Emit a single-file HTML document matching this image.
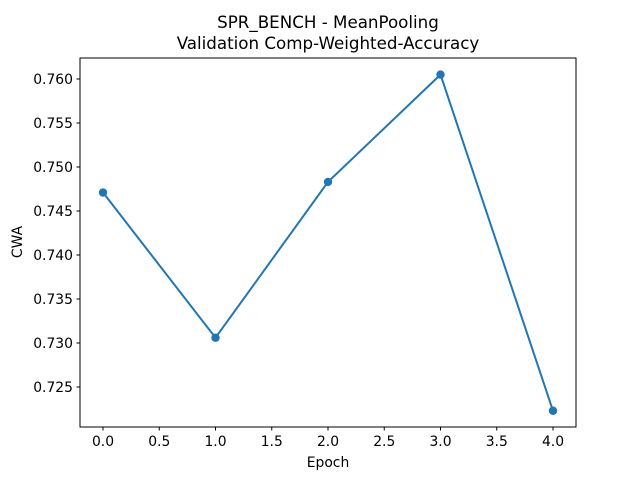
<!DOCTYPE html>
<html><head><meta charset="utf-8"><style>body{margin:0;background:#fff}svg{display:block;font-family:"DejaVu Sans","Liberation Sans",sans-serif}</style></head>
<body>
<svg id="chart" width="640" height="480">
<rect width="640" height="480" fill="#fff"/>
<text x="328" y="28" text-anchor="middle" font-size="16.7">SPR_BENCH - MeanPooling</text>
<text x="328" y="49" text-anchor="middle" font-size="16.7">Validation Comp-Weighted-Accuracy</text>
<g id="ticks"></g>
<g id="series"></g>
<rect x="80" y="58" width="496" height="369" fill="none" stroke="#000" stroke-width="1"/>
<text x="328" y="467" text-anchor="middle" font-size="13.9">Epoch</text>
<text x="22" y="242" text-anchor="middle" font-size="13.9" transform="rotate(-90 22 242)">CWA</text>
</svg>
<script>
const epochs=[0,1,2,3,4];
const cwa=[0.7471,0.7306,0.7483,0.7605,0.7223];
const xTicks=[0,0.5,1,1.5,2,2.5,3,3.5,4];
const xTickLabels=["0.0","0.5","1.0","1.5","2.0","2.5","3.0","3.5","4.0"];
const yTicks=[0.725,0.730,0.735,0.740,0.745,0.750,0.755,0.760];
const yTickLabels=["0.725","0.730","0.735","0.740","0.745","0.750","0.755","0.760"];
const NS="http://www.w3.org/2000/svg";
const X=v=>103+v*112.5;
const Y=v=>387-(v-0.725)*8800;
const tg=document.getElementById('ticks'),sg=document.getElementById('series');
function mk(tag,attrs,parent){const e=document.createElementNS(NS,tag);for(const k in attrs)e.setAttribute(k,attrs[k]);parent.appendChild(e);return e;}
xTicks.forEach((t,i)=>{
 const l=mk('line',{x1:X(t),x2:X(t),y1:427,y2:430.5,stroke:'#000'},tg);
 
 
 const tx=mk('text',{x:X(t),y:446,'text-anchor':'middle','font-size':13.9},tg);tx.textContent=xTickLabels[i];
 
 
});
yTicks.forEach((t,i)=>{
 const l=mk('line',{x1:76.5,x2:80,y1:Y(t),y2:Y(t),stroke:'#000'},tg);
 
 
 const tx=mk('text',{x:73,y:Y(t)+5,'text-anchor':'end','font-size':13.9},tg);tx.textContent=yTickLabels[i];
 
 
});
const pl=mk('polyline',{points:epochs.map((e,i)=>X(e)+','+Y(cwa[i])).join(' '),fill:'none',stroke:'#1f77b4','stroke-width':2},sg);


epochs.forEach((e,i)=>{
 const c=mk('circle',{cx:X(e),cy:Y(cwa[i]),r:4.2,fill:'#1f77b4'},sg);
 
 
});
</script>
</body></html>
